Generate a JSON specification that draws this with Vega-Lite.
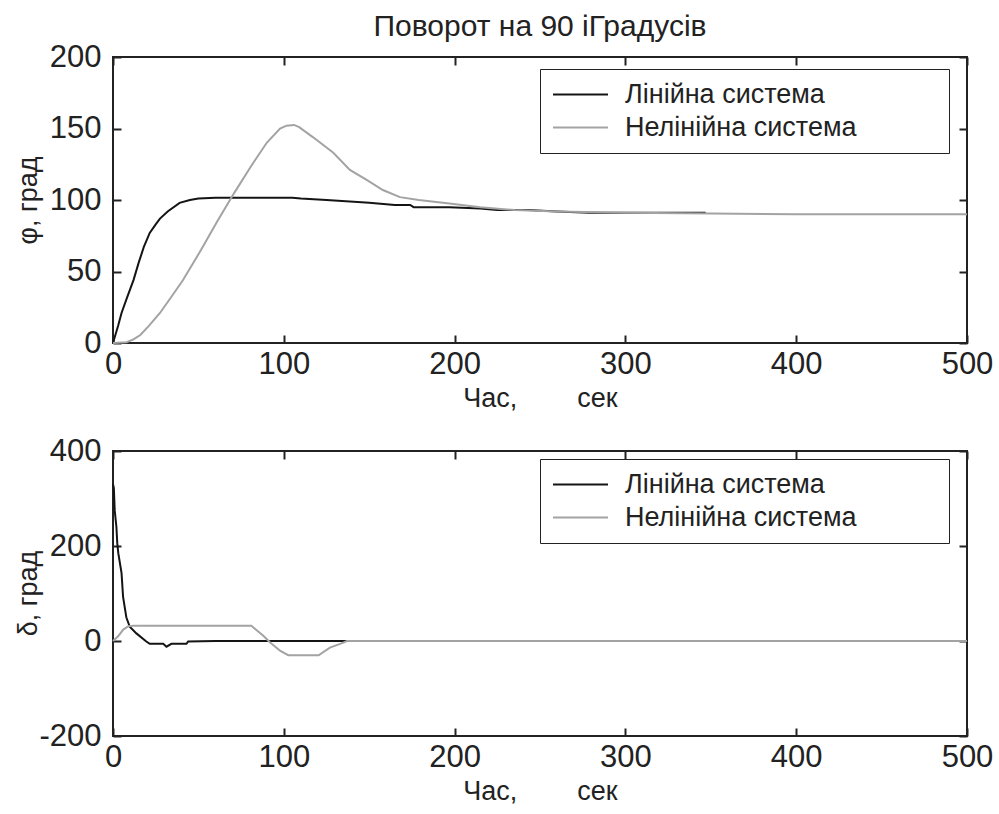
{
  "$schema": "https://vega.github.io/schema/vega-lite/v6.json",
  "padding": {"left": 13, "top": 11, "right": 0, "bottom": 5},
  "background": "white",
  "config": {
    "font": "Liberation Sans",
    "view": {"stroke": "#222", "strokeWidth": 2},
    "axis": {
      "domain": false,
      "grid": false,
      "labelFont": "Liberation Sans",
      "labelFontSize": 31,
      "labelColor": "#222",
      "labelFlush": false,
      "labelOverlap": false,
      "tickColor": "#222",
      "tickWidth": 2,
      "tickSize": -8,
      "titleFont": "Liberation Sans",
      "titleFontSize": 27,
      "titleFontWeight": "normal",
      "titleColor": "#222"
    },
    "legend": {
      "orient": "none",
      "title": null,
      "symbolType": "M-1,0H3.4",
      "symbolSize": 625,
      "symbolStrokeWidth": 2,
      "labelFont": "Liberation Sans",
      "labelFontSize": 27,
      "labelColor": "#222",
      "labelOffset": 46,
      "labelLimit": 700,
      "padding": 12,
      "rowPadding": 5,
      "strokeColor": "#222",
      "fillColor": "white",
      "cornerRadius": 0
    }
  },
  "datasets": {
    "phi": [
      {"series": "Лінійна система", "t": 0, "v": 0},
      {"series": "Лінійна система", "t": 3, "v": 12},
      {"series": "Лінійна система", "t": 5, "v": 21},
      {"series": "Лінійна система", "t": 8, "v": 31},
      {"series": "Лінійна система", "t": 12, "v": 44},
      {"series": "Лінійна система", "t": 15, "v": 56},
      {"series": "Лінійна система", "t": 18, "v": 67},
      {"series": "Лінійна система", "t": 21.5, "v": 77},
      {"series": "Лінійна система", "t": 25, "v": 83},
      {"series": "Лінійна система", "t": 27.5, "v": 87},
      {"series": "Лінійна система", "t": 32, "v": 92},
      {"series": "Лінійна система", "t": 39, "v": 98},
      {"series": "Лінійна система", "t": 45, "v": 100},
      {"series": "Лінійна система", "t": 50, "v": 101},
      {"series": "Лінійна система", "t": 60, "v": 101.5},
      {"series": "Лінійна система", "t": 105, "v": 101.5},
      {"series": "Лінійна система", "t": 110, "v": 101},
      {"series": "Лінійна система", "t": 125, "v": 100},
      {"series": "Лінійна система", "t": 150, "v": 98},
      {"series": "Лінійна система", "t": 165, "v": 96.5},
      {"series": "Лінійна система", "t": 174, "v": 96.5},
      {"series": "Лінійна система", "t": 176, "v": 95},
      {"series": "Лінійна система", "t": 197, "v": 95},
      {"series": "Лінійна система", "t": 215, "v": 94},
      {"series": "Лінійна система", "t": 225, "v": 93},
      {"series": "Лінійна система", "t": 243, "v": 93},
      {"series": "Лінійна система", "t": 260, "v": 92},
      {"series": "Лінійна система", "t": 279, "v": 91},
      {"series": "Лінійна система", "t": 347, "v": 91},
      {"series": "Нелінійна система", "t": 0, "v": 0},
      {"series": "Нелінійна система", "t": 8, "v": 0.5},
      {"series": "Нелінійна система", "t": 12, "v": 2.5},
      {"series": "Нелінійна система", "t": 16, "v": 5.6},
      {"series": "Нелінійна система", "t": 21, "v": 12},
      {"series": "Нелінійна система", "t": 27.5, "v": 21},
      {"series": "Нелінійна система", "t": 34, "v": 32},
      {"series": "Нелінійна система", "t": 41, "v": 44},
      {"series": "Нелінійна система", "t": 51, "v": 64},
      {"series": "Нелінійна система", "t": 61, "v": 85},
      {"series": "Нелінійна система", "t": 71, "v": 105},
      {"series": "Нелінійна система", "t": 81, "v": 124},
      {"series": "Нелінійна система", "t": 90, "v": 140},
      {"series": "Нелінійна система", "t": 97.8, "v": 150},
      {"series": "Нелінійна система", "t": 101.6, "v": 152},
      {"series": "Нелінійна система", "t": 106, "v": 152.5},
      {"series": "Нелінійна система", "t": 109, "v": 151},
      {"series": "Нелінійна система", "t": 117, "v": 144},
      {"series": "Нелінійна система", "t": 129, "v": 133},
      {"series": "Нелінійна система", "t": 138.7, "v": 121},
      {"series": "Нелінійна система", "t": 148.5, "v": 114},
      {"series": "Нелінійна система", "t": 158, "v": 107},
      {"series": "Нелінійна система", "t": 168, "v": 102},
      {"series": "Нелінійна система", "t": 179, "v": 100},
      {"series": "Нелінійна система", "t": 197, "v": 97.5},
      {"series": "Нелінійна система", "t": 215, "v": 95},
      {"series": "Нелінійна система", "t": 235, "v": 93},
      {"series": "Нелінійна система", "t": 260, "v": 92},
      {"series": "Нелінійна система", "t": 300, "v": 91},
      {"series": "Нелінійна система", "t": 350, "v": 90.5},
      {"series": "Нелінійна система", "t": 400, "v": 90},
      {"series": "Нелінійна система", "t": 500, "v": 90}
    ],
    "delta": [
      {"series": "Лінійна система", "t": 0, "v": 330},
      {"series": "Лінійна система", "t": 0.5, "v": 322},
      {"series": "Лінійна система", "t": 1, "v": 275},
      {"series": "Лінійна система", "t": 2, "v": 240},
      {"series": "Лінійна система", "t": 2.5, "v": 206},
      {"series": "Лінійна система", "t": 3.1, "v": 185},
      {"series": "Лінійна система", "t": 5, "v": 143},
      {"series": "Лінійна система", "t": 5.9, "v": 93},
      {"series": "Лінійна система", "t": 7.8, "v": 50},
      {"series": "Лінійна система", "t": 9.8, "v": 30},
      {"series": "Лінійна система", "t": 13.7, "v": 16},
      {"series": "Лінійна система", "t": 19.5, "v": -1},
      {"series": "Лінійна система", "t": 21.5, "v": -6},
      {"series": "Лінійна система", "t": 29.4, "v": -6},
      {"series": "Лінійна система", "t": 31.3, "v": -12},
      {"series": "Лінійна система", "t": 34.2, "v": -6},
      {"series": "Лінійна система", "t": 43, "v": -6},
      {"series": "Лінійна система", "t": 44, "v": -1},
      {"series": "Лінійна система", "t": 60, "v": 0},
      {"series": "Лінійна система", "t": 137, "v": 0},
      {"series": "Нелінійна система", "t": 0, "v": 0},
      {"series": "Нелінійна система", "t": 3, "v": 10},
      {"series": "Нелінійна система", "t": 6, "v": 24},
      {"series": "Нелінійна система", "t": 9, "v": 31},
      {"series": "Нелінійна система", "t": 12, "v": 32},
      {"series": "Нелінійна система", "t": 81, "v": 32},
      {"series": "Нелінійна система", "t": 88, "v": 11},
      {"series": "Нелінійна система", "t": 92, "v": -3},
      {"series": "Нелінійна система", "t": 98, "v": -21},
      {"series": "Нелінійна система", "t": 102.6, "v": -30},
      {"series": "Нелінійна система", "t": 120.4, "v": -30},
      {"series": "Нелінійна система", "t": 127, "v": -14},
      {"series": "Нелінійна система", "t": 133, "v": -6},
      {"series": "Нелінійна система", "t": 137, "v": 0},
      {"series": "Нелінійна система", "t": 500, "v": 0}
    ]
  },
  "spacing": 108,
  "bounds": "flush",
  "resolve": {"legend": {"color": "independent"}},
  "vconcat": [
    {
      "width": 854,
      "height": 286,
      "title": {"text": "Поворот на 90 іГрадусів", "font": "Liberation Sans", "fontSize": 30, "fontWeight": "normal", "color": "#222", "anchor": "middle", "offset": -1},
      "data": {"name": "phi"},
      "layer": [
        {
          "mark": {"type": "line", "strokeWidth": 2},
          "encoding": {
            "x": {"field": "t", "type": "quantitative", "scale": {"domain": [0, 500], "nice": false}, "axis": {"orient": "bottom", "values": [0, 100, 200, 300, 400, 500], "title": "Час,\u00a0\u00a0\u00a0\u00a0\u00a0\u00a0\u00a0\u00a0сек", "labelPadding": 14, "titlePadding": 6}},
            "y": {"field": "v", "type": "quantitative", "scale": {"domain": [0, 200], "nice": false}, "axis": {"orient": "left", "values": [0, 50, 100, 150, 200], "title": "φ, град", "labelPadding": 20, "titleX": -71, "titleY": 143, "titleAngle": -90, "titleAlign": "center", "titleBaseline": "bottom"}},
            "color": {
              "field": "series", "type": "nominal",
              "scale": {"domain": ["Лінійна система", "Нелінійна система"], "range": ["#141414", "#a3a3a3"]},
              "legend": {"legendX": 427, "legendY": 12, "labelExpr": "datum.label + '\u2800\u2800\u2800\u2800'"}
            }
          }
        },
        {
          "mark": {"type": "line", "strokeOpacity": 0},
          "encoding": {
            "x": {"field": "t", "type": "quantitative", "axis": {"orient": "top", "values": [0, 100, 200, 300, 400, 500], "labels": false, "title": null}},
            "y": {"field": "v", "type": "quantitative", "axis": {"orient": "right", "values": [0, 50, 100, 150, 200], "labels": false, "title": null}},
            "detail": {"field": "series"}
          }
        }
      ],
      "resolve": {"axis": {"x": "independent", "y": "independent"}}
    },
    {
      "width": 854,
      "height": 285,
      "data": {"name": "delta"},
      "layer": [
        {
          "mark": {"type": "line", "strokeWidth": 2},
          "encoding": {
            "x": {"field": "t", "type": "quantitative", "scale": {"domain": [0, 500], "nice": false}, "axis": {"orient": "bottom", "values": [0, 100, 200, 300, 400, 500], "title": "Час,\u00a0\u00a0\u00a0\u00a0\u00a0\u00a0\u00a0\u00a0сек", "labelPadding": 14, "titlePadding": 6}},
            "y": {"field": "v", "type": "quantitative", "scale": {"domain": [-200, 400], "nice": false}, "axis": {"orient": "left", "values": [-200, 0, 200, 400], "labelExpr": "'' + datum.value", "title": "δ, град", "labelPadding": 20, "titleX": -71, "titleY": 142, "titleAngle": -90, "titleAlign": "center", "titleBaseline": "bottom"}},
            "color": {
              "field": "series", "type": "nominal",
              "scale": {"domain": ["Лінійна система", "Нелінійна система"], "range": ["#141414", "#a3a3a3"]},
              "legend": {"legendX": 427, "legendY": 8, "labelExpr": "datum.label + '\u2800\u2800\u2800\u2800'"}
            }
          }
        },
        {
          "mark": {"type": "line", "strokeOpacity": 0},
          "encoding": {
            "x": {"field": "t", "type": "quantitative", "axis": {"orient": "top", "values": [0, 100, 200, 300, 400, 500], "labels": false, "title": null}},
            "y": {"field": "v", "type": "quantitative", "axis": {"orient": "right", "values": [-200, 0, 200, 400], "labels": false, "title": null}},
            "detail": {"field": "series"}
          }
        }
      ],
      "resolve": {"axis": {"x": "independent", "y": "independent"}}
    }
  ]
}
